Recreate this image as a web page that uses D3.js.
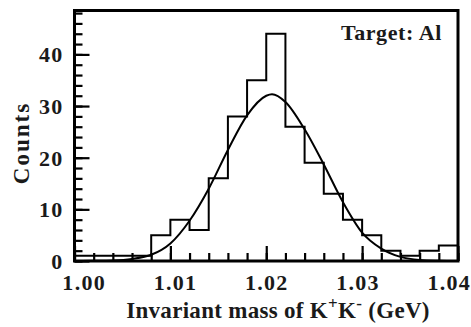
<!DOCTYPE html>
<html>
<head>
<meta charset="utf-8">
<script src="https://cdn.jsdelivr.net/npm/d3@7"></script>
<style>
  body { margin: 0; background: #fff; }
  svg text { font-family: "Liberation Serif", "DejaVu Serif", serif; font-weight: bold; fill: #1a1a1a; }
</style>
</head>
<body>
<div id="chart"></div>
<script>
  // histogram bins, width 0.002 GeV, starting at 1.000
  var binEdges = [1.000, 1.002, 1.004, 1.006, 1.008, 1.010, 1.012, 1.014, 1.016, 1.018,
                  1.020, 1.022, 1.024, 1.026, 1.028, 1.030, 1.032, 1.034, 1.036, 1.038, 1.040];
  var counts = [1, 1, 1, 1, 5, 8, 6, 16, 28, 35, 44, 26, 19, 13, 8, 5, 2, 1, 2, 3];

  // fit curve
  var fitMass = [1.000, 1.002, 1.004, 1.006, 1.008, 1.010, 1.012, 1.014, 1.016, 1.018, 1.020,
                 1.0206, 1.022, 1.024, 1.026, 1.028, 1.030, 1.032, 1.034, 1.036, 1.038, 1.040];
  var fitCounts = [0.0, 0.03, 0.1, 0.4, 1.2, 3.4, 7.8, 14.0, 21.5, 28.2, 32.0,
                   32.3, 30.8, 25.5, 18.7, 11.4, 5.5, 2.4, 0.8, 0.2, 0.05, 0.0];

  var xMajor = [1.00, 1.01, 1.02, 1.03, 1.04];
  var yMajor = [0, 10, 20, 30, 40];

  ;(function() {
    var width = 471, height = 327;
    var plotLeft = 74.5, plotRight = 458, plotTop = 10.5, plotBottom = 261;

    var svg = d3.select('#chart').append('svg')
      .attr('width', width)
      .attr('height', height);

    var x = d3.scaleLinear().domain([1.00, 1.04]).range([plotLeft, plotRight]);
    var y = d3.scaleLinear().domain([0, 48.5]).range([plotBottom, plotTop]);

    var xMinor = d3.range(0, 21).map(function(i) { return 1.00 + i * 0.002; });
    var yMinor = d3.range(0, 25).map(function(i) { return i * 2; });

    // minor ticks
    svg.append('g')
      .attr('class', 'x-minor')
      .attr('transform', 'translate(0,' + plotBottom + ')')
      .call(d3.axisBottom(x).tickValues(xMinor).tickSize(-8).tickFormat(''));

    svg.append('g')
      .attr('class', 'y-minor')
      .attr('transform', 'translate(' + plotLeft + ',0)')
      .call(d3.axisLeft(y).tickValues(yMinor).tickSize(-8).tickFormat(''));

    // major ticks + labels
    var xAxis = svg.append('g')
      .attr('class', 'x-major')
      .attr('transform', 'translate(0,' + plotBottom + ')')
      .call(d3.axisBottom(x).tickValues(xMajor).tickSize(-15).tickPadding(14).tickFormat(d3.format('.2f')));

    var yAxis = svg.append('g')
      .attr('class', 'y-major')
      .attr('transform', 'translate(' + plotLeft + ',0)')
      .call(d3.axisLeft(y).tickValues(yMajor).tickSize(-15).tickPadding(10).tickFormat(d3.format('d')));

    svg.selectAll('.domain').remove();
    svg.selectAll('.tick line').attr('stroke', '#000').attr('stroke-width', 2.2);
    svg.selectAll('.tick text')
      .style('font-size', '22px')
      .style('letter-spacing', '1.3px')
      .attr('fill', '#1a1a1a');

    // labels in the original sit a little closer together than the ticks
    var mid = x(1.02);
    xAxis.selectAll('.tick text')
      .attr('y', 13)
      .attr('dy', '0.71em')
      .attr('x', function(d) { return -0.048 * (x(d) - mid); });
    yAxis.selectAll('.tick text').attr('x', -11).attr('dy', '0.34em');

    // histogram steps
    var steps = counts.map(function(c, i) { return [binEdges[i], c]; });
    steps.push([binEdges[binEdges.length - 1], counts[counts.length - 1]]);

    svg.append('path')
      .datum(steps)
      .attr('fill', 'none')
      .attr('stroke', '#000')
      .attr('stroke-width', 2)
      .attr('d', d3.line()
        .x(function(d) { return x(d[0]); })
        .y(function(d) { return y(d[1]); })
        .curve(d3.curveStepAfter));

    // fit curve
    var fit = fitMass.map(function(m, i) { return [m, fitCounts[i]]; });

    svg.append('path')
      .datum(fit)
      .attr('fill', 'none')
      .attr('stroke', '#000')
      .attr('stroke-width', 2)
      .attr('d', d3.line()
        .x(function(d) { return x(d[0]); })
        .y(function(d) { return y(d[1]); })
        .curve(d3.curveMonotoneX));

    // frame
    svg.append('rect')
      .attr('x', plotLeft)
      .attr('y', plotTop)
      .attr('width', plotRight - plotLeft)
      .attr('height', plotBottom - plotTop)
      .attr('fill', 'none')
      .attr('stroke', '#000')
      .attr('stroke-width', 3);

    // labels
    svg.append('text')
      .attr('x', 442)
      .attr('y', 40)
      .attr('text-anchor', 'end')
      .style('font-size', '22px')
      .style('letter-spacing', '0.6px')
      .text('Target: Al');

    var xLabel = svg.append('text')
      .attr('x', (126 + 430) / 2)
      .attr('y', 318)
      .attr('text-anchor', 'middle')
      .style('font-size', '23px')
      .style('letter-spacing', '0.3px');
    xLabel.append('tspan').text('Invariant mass of K');
    xLabel.append('tspan').attr('dy', -9).style('font-size', '17px').text('+');
    xLabel.append('tspan').attr('dy', 9).text('K');
    xLabel.append('tspan').attr('dy', -9).style('font-size', '17px').text('-');
    xLabel.append('tspan').attr('dy', 9).text(' (GeV)');

    svg.append('text')
      .attr('transform', 'translate(29,143) rotate(-90)')
      .attr('text-anchor', 'middle')
      .style('font-size', '23px')
      .style('letter-spacing', '2px')
      .text('Counts');
  })();
</script>
</body>
</html>
